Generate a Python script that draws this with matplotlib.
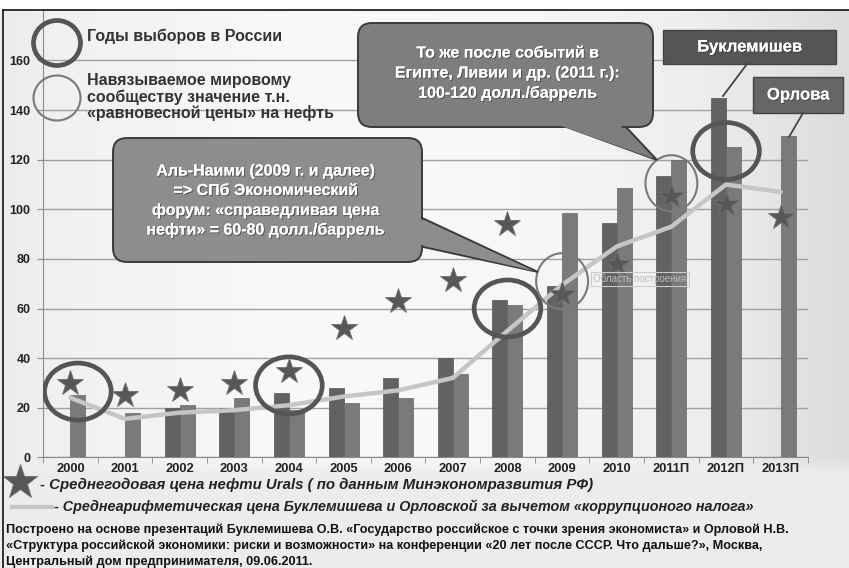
import matplotlib
matplotlib.use("Agg")
import matplotlib.pyplot as plt
import numpy as np
from matplotlib.patches import Ellipse, FancyBboxPatch, Polygon, Rectangle
from matplotlib.lines import Line2D
import matplotlib.patheffects as pe

# ---------------- data ----------------
years = ["2000", "2001", "2002", "2003", "2004", "2005", "2006", "2007",
         "2008", "2009", "2010", "2011П", "2012П", "2013П"]
buklemishev = [np.nan, np.nan, 20, 20, 26, 28, 32, 40, 63.5, 69, 94.5, 113.5, 145, np.nan]
orlova = [25, 18, 21, 24, 19, 22, 24, 33.5, 61.5, 98.5, 108.5, 120, 125, 129.5]
urals = [30, 25, 27, 30, 35, 52, 63, 71.5, 94, 66, 78, 105.5, 102, 97]
avg_no_tax = [24, 15.5, 18, 19, 21, 24.5, 27, 32, 51, 69.5, 85, 93, 110, 107]
yticks = [0, 20, 40, 60, 80, 100, 120, 140, 160]

# highlighted years (ellipse centres in data units)
election_years = ["2000", "2004", "2008", "2012П"]
election_centres = [26.5, 29, 60, 123.5]
equilibrium_years = ["2009", "2011П"]
equilibrium_centres = [71, 110.5]

FAM = ["Liberation Sans", "DejaVu Sans"]
plt.rcParams["font.family"] = FAM

W, H = 849, 568
fig = plt.figure(figsize=(W / 100, H / 100), dpi=100)

# ---------------- background ----------------
bg = fig.add_axes([0, 0, 1, 1], zorder=-10)
xs = np.arange(W)
col = np.interp(xs, [0, 60, 300, 520, 700, 849], [0.92, 0.94, 0.975, 0.965, 0.93, 0.86])
img = np.tile(col, (H, 1))
yy = np.arange(H)[:, None]
mix = np.clip((yy - 455) / 20.0, 0, 1)
img = img * (1 - mix) + 0.925 * mix
img[:10, :] = 1.0
bg.imshow(img, cmap="gray", vmin=0, vmax=1, extent=[0, W, H, 0], aspect="auto")
bg.set_xlim(0, W)
bg.set_ylim(H, 0)
bg.axis("off")

# ---------------- main axes ----------------
ax = fig.add_axes([43 / W, (H - 457.3) / H, 765 / W, (457.3 - 10.9) / H])
ax.set_facecolor("none")
x = np.arange(len(years))
bw = 0.275
ax.bar(x - bw / 2, buklemishev, width=bw, color="#626262", edgecolor="#555555", linewidth=0.5, zorder=3)
ax.bar(x + bw / 2, orlova, width=bw, color="#7a7a7a", edgecolor="#666666", linewidth=0.5, zorder=3)
ax.plot(x, avg_no_tax, color="#c6c6c6", lw=3.2, solid_capstyle="round", zorder=5)
ax.plot(x, urals, linestyle="none", marker="*", ms=19, color="#575757",
        markeredgecolor="#707070", markeredgewidth=0.6, zorder=7)


def bar_centre(i):
    pos = []
    if not np.isnan(buklemishev[i]):
        pos.append(i - bw / 2)
    if not np.isnan(orlova[i]):
        pos.append(i + bw / 2)
    return np.mean(pos) if len(pos) == 1 else i


for yr, yc in zip(election_years, election_centres):
    ax.add_patch(Ellipse((bar_centre(years.index(yr)), yc), 1.22, 23, fill=False,
                         edgecolor="#555555", lw=3.4, zorder=6))
for yr, yc in zip(equilibrium_years, equilibrium_centres):
    ax.add_patch(Ellipse((years.index(yr), yc), 0.95, 22.6, fill=False,
                         edgecolor="#7a7a7a", lw=1.5, zorder=6))

ax.set_xlim(-0.5, len(years) - 0.5)
ax.set_ylim(0, 180)
ax.set_yticks(yticks)
ax.set_yticklabels([str(v) for v in yticks], fontsize=9, fontweight="bold", color="#222222")
ax.set_xticks(x)
ax.set_xticklabels(years, fontsize=9.3, fontweight="bold", color="#222222")
ax.set_xticks(np.arange(-0.5, len(years)), minor=True)
ax.tick_params(axis="x", which="major", length=0, pad=4)
ax.tick_params(axis="x", which="minor", length=4, color="#888888", direction="out")
ax.tick_params(axis="y", length=4, color="#888888", pad=5)
ax.grid(axis="y", color="#a0a0a0", lw=1, zorder=0)
ax.set_axisbelow(True)
for s in ["top", "right"]:
    ax.spines[s].set_visible(False)
ax.spines["left"].set_color("#8a8a8a")
ax.spines["bottom"].set_color("#8a8a8a")

# ---------------- overlay (pixel coordinates) ----------------
ov = fig.add_axes([0, 0, 1, 1], zorder=10)
ov.set_xlim(0, W)
ov.set_ylim(H, 0)
ov.axis("off")
ov.set_facecolor("none")

# frame
ov.add_line(Line2D([3, W], [10, 10], color="#111111", lw=1.2))
ov.add_line(Line2D([3, 3], [10, H], color="#111111", lw=1.2))

# top-left legend
ov.add_patch(Ellipse((57, 43), 47, 45, fill=False, edgecolor="#555555", lw=3.4))
ov.add_patch(Ellipse((57, 98), 47, 45, fill=False, edgecolor="#7a7a7a", lw=1.5))
ov.text(87, 36, "Годы выборов в России", fontsize=11.5, fontweight="bold",
        color="#333333", va="center", ha="left")
for i, t in enumerate(["Навязываемое мировому", "сообществу значение т.н.",
                       "«равновесной цены» на нефть"]):
    ov.text(87, 81 + 16 * i, t, fontsize=11.5, fontweight="bold", color="#333333",
            va="center", ha="left")

shadow = [pe.withSimplePatchShadow(offset=(0.8, -0.8), shadow_rgbFace="#333333", alpha=0.6), pe.Normal()]

# callout 1 (Al-Naimi)
ov.add_patch(Polygon([(405, 210), (538, 272), (405, 243)], closed=True,
                     facecolor="#8d8d8d", edgecolor="#3a3a3a", lw=1.4, zorder=1))
ov.add_patch(FancyBboxPatch((113, 138), 309, 124, boxstyle="round,pad=0,rounding_size=14",
                            facecolor="#8d8d8d", edgecolor="#3a3a3a", lw=1.4, zorder=2))
ov.add_patch(Polygon([(405, 212), (534, 271), (405, 241)], closed=True,
                     facecolor="#8d8d8d", edgecolor="none", zorder=3))
for i, t in enumerate(["Аль-Наими (2009 г. и далее)", "=> СПб Экономический",
                       "форум: «справедливая цена", "нефти» = 60-80 долл./баррель"]):
    ov.text(266, 171 + 19.5 * i, t, fontsize=11.5, fontweight="bold", color="white",
            ha="center", va="center", zorder=4, path_effects=shadow)

# callout 2 (Egypt, Libya)
ov.add_patch(Polygon([(520, 110), (657, 160), (610, 110)], closed=True,
                     facecolor="#7e7e7e", edgecolor="#3a3a3a", lw=1.4, zorder=1))
ov.add_patch(FancyBboxPatch((358, 23), 295, 104, boxstyle="round,pad=0,rounding_size=14",
                            facecolor="#7e7e7e", edgecolor="#3a3a3a", lw=1.4, zorder=2))
ov.add_patch(Polygon([(522, 112), (653, 158.5), (607, 112)], closed=True,
                     facecolor="#7e7e7e", edgecolor="none", zorder=3))
for i, t in enumerate(["То же после событий в", "Египте, Ливии и др. (2011 г.):",
                       "100-120 долл./баррель"]):
    ov.text(508, 53 + 20 * i, t, fontsize=11.5, fontweight="bold", color="white",
            ha="center", va="center", zorder=4, path_effects=shadow)

# series labels
ov.add_patch(Rectangle((663, 30), 173, 34, facecolor="#555555", edgecolor="#444444", lw=1))
ov.text(749.5, 47, "Буклемишев", fontsize=12, fontweight="bold", color="white",
        ha="center", va="center", path_effects=shadow)
ov.add_line(Line2D([747, 723], [64, 96], color="#444444", lw=1.3))
ov.add_patch(Rectangle((753, 77), 90, 36, facecolor="#666666", edgecolor="#444444", lw=1))
ov.text(798, 95, "Орлова", fontsize=12, fontweight="bold", color="white",
        ha="center", va="center", path_effects=shadow)
ov.add_line(Line2D([803, 789], [113, 137], color="#444444", lw=1.3))

# faint tooltip
ov.text(640, 279, "Область построения", fontsize=7, color="#bbbbbb", ha="center", va="center",
        bbox=dict(boxstyle="square,pad=0.2", facecolor="none", edgecolor="#cccccc", lw=0.8))

# bottom legend
ov.plot([20], [482], marker="*", ms=26, color="#575757", markeredgecolor="#707070",
        markeredgewidth=0.6, linestyle="none")
ov.text(40, 485, "- Среднегодовая цена нефти Urals ( по данным Минэкономразвития РФ)",
        fontsize=10.8, fontweight="bold", style="italic", color="#222222",
        ha="left", va="center")
ov.add_line(Line2D([12, 52], [507, 507], color="#c6c6c6", lw=3))
ov.text(54, 507, "- Среднеарифметическая цена Буклемишева и Орловской за вычетом «коррупционого налога»",
        fontsize=10.4, fontweight="bold", style="italic", color="#222222",
        ha="left", va="center")
notes = ["Построено на основе презентаций Буклемишева О.В. «Государство российское с точки зрения экономиста» и Орловой Н.В.",
         "«Структура российской экономики: риски и возможности» на конференции «20 лет после СССР. Что дальше?», Москва,",
         "Центральный дом предпринимателя, 09.06.2011."]
for i, t in enumerate(notes):
    ov.text(6, 530 + 16 * i, t, fontsize=9.1, fontweight="bold",
            color="#111111", ha="left", va="center")

fig.savefig("out.png", dpi=100)
